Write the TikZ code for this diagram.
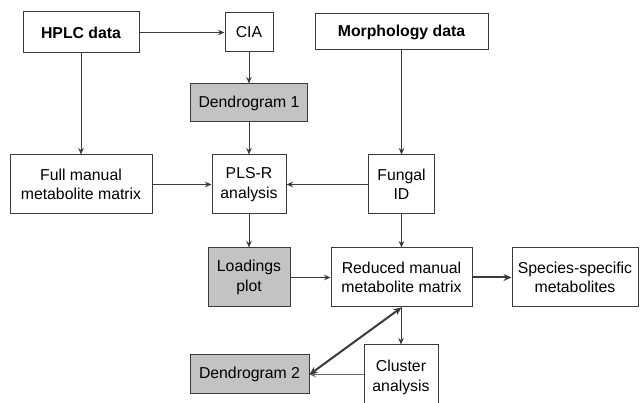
\documentclass[tikz,border=0pt]{standalone}
\usepackage{fontspec}
\setmainfont{Liberation Sans}
\usetikzlibrary{arrows.meta}
\definecolor{edgegray}{HTML}{3A3A3A}
\definecolor{boxfill}{HTML}{C2C3C5}
\definecolor{lightline}{HTML}{6A6A6A}
\begin{document}
\begin{tikzpicture}[x=1pt,y=-1pt,
  box/.style={draw=edgegray,line width=1pt,fill=white,inner sep=0pt,
    align=center,font=\fontsize{15.8}{19.5}\selectfont,text=black},
  shaded/.style={box,fill=boxfill},
  link/.style={draw=edgegray,line width=0.9pt,-{Stealth[length=6.5pt,width=5.5pt]}},
  boldlink/.style={draw=edgegray,line width=2pt,-{Stealth[length=8pt,width=7pt]}}]
\useasboundingbox (0,0) rectangle (641,403);
\fill[white] (0,0) rectangle (641,403);

% boxes
\node[box,minimum width=116pt,minimum height=41pt,font=\fontsize{15.8}{19.5}\selectfont\bfseries] (hplc) at (81,32.5) {HPLC data};
\node[box,minimum width=48pt,minimum height=39pt] (cia) at (249,32.5) {CIA};
\node[box,minimum width=173pt,minimum height=36pt,font=\fontsize{15.8}{19.5}\selectfont\bfseries] (morph) at (401.5,32) {Morphology data};
\node[shaded,minimum width=117pt,minimum height=38pt] (dendA) at (249,103) {Dendrogram 1};
\node[box,minimum width=142pt,minimum height=59pt] (full) at (81,184.5) {Full manual\\metabolite matrix};
\node[box,minimum width=74pt,minimum height=59pt] (pls) at (249,184.5) {PLS-R\\analysis};
\node[box,minimum width=66pt,minimum height=59pt] (fungal) at (401.5,184.5) {Fungal\\ID};
\node[shaded,minimum width=82pt,minimum height=59pt] (load) at (249,277.5) {Loadings\\plot};
\node[box,minimum width=141pt,minimum height=59pt] (reduced) at (401.5,277.5) {Reduced manual\\metabolite matrix};
\node[box,minimum width=126pt,minimum height=59pt] (species) at (575,277.5) {Species-specific\\metabolites};
\node[shaded,minimum width=119pt,minimum height=39pt] (dendB) at (249.5,374.5) {Dendrogram 2};
\node[box,minimum width=74pt,minimum height=62pt,text depth=0pt] (cluster) at (401,376) {Cluster\\analysis};

% connectors
\draw[link] (hplc.east) -- (cia.west);
\draw[link] (cia) -- (dendA);
\draw[link] (hplc) -- (full);
\draw[link] (dendA) -- (pls);
\draw[link] (full) -- (pls);
\draw[link] (fungal) -- (pls);
\draw[link] (morph) -- (fungal);
\draw[link] (pls) -- (load);
\draw[link] (load) -- (reduced);
\draw[link] (fungal) -- (reduced);
\draw[boldlink] (reduced) -- (species);
\draw[link] (reduced.south -| cluster.north) -- (cluster.north);
\draw[link,draw=lightline] (cluster.west |- dendB.east) -- (dendB.east);
\draw[boldlink,{Stealth[length=8pt,width=7pt]}-{Stealth[length=8pt,width=7pt]}] (dendB.east) -- (reduced.south);
\end{tikzpicture}
\end{document}
